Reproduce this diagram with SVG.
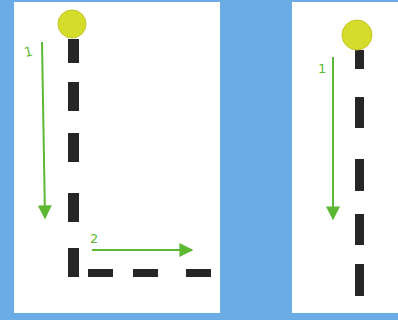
<svg xmlns="http://www.w3.org/2000/svg" width="398" height="320" viewBox="0 0 398 320">
<style>
.panel{fill:#ffffff}
.dash{fill:#262626}
.ball{fill:#d6dc2c;stroke:#c2c626;stroke-width:1}
.arrow{stroke:#5cb832;stroke-width:2;fill:none}
.lbl{font-family:"DejaVu Sans",sans-serif;font-size:13px;fill:#5cb832}
</style>
<defs>
<marker id="ah" viewBox="0 0 10 10" refX="9" refY="5" markerWidth="7" markerHeight="7" orient="auto" markerUnits="strokeWidth">
<path d="M0,0 L10,5 L0,10 Z" fill="#5cb832"/>
</marker>
</defs>
<rect x="0" y="0" width="398" height="320" fill="#6cace6"/>
<g id="panel-left">
<rect class="panel" x="14" y="2" width="206" height="311"/>
</g>
<g id="panel-right">
<rect class="panel" x="292" y="2" width="106" height="311"/>
</g>
<g id="path-left">
<rect class="dash" x="68" y="39" width="11" height="24"/>
<rect class="dash" x="68" y="82" width="11" height="29"/>
<rect class="dash" x="68" y="133" width="11" height="29"/>
<rect class="dash" x="68" y="193" width="11" height="29"/>
<rect class="dash" x="68" y="248" width="11" height="29"/>
<rect class="dash" x="88" y="269" width="25" height="8"/>
<rect class="dash" x="133" y="269" width="25" height="8"/>
<rect class="dash" x="186" y="269" width="25" height="8"/>
</g>
<g id="ball-left">
<circle class="ball" cx="72" cy="24" r="14"/>
</g>
<g id="path-right">
<rect class="dash" x="355" y="50" width="9" height="19"/>
<rect class="dash" x="355" y="97" width="9" height="31"/>
<rect class="dash" x="355" y="159" width="9" height="32"/>
<rect class="dash" x="355" y="214" width="9" height="31"/>
<rect class="dash" x="355" y="264" width="9" height="32"/>
</g>
<g id="ball-right">
<circle class="ball" cx="357" cy="35" r="15"/>
</g>
<g id="connectors">
<path class="arrow" d="M42,42 L45,218" marker-end="url(#ah)"/>
<path class="arrow" d="M92,250 L192,250" marker-end="url(#ah)"/>
<path class="arrow" d="M333,57 L333,219" marker-end="url(#ah)"/>
</g>
<g id="labels">
<text class="lbl" x="24" y="56" transform="rotate(-12 29 50)">1</text>
<text class="lbl" x="90" y="243">2</text>
<text class="lbl" x="318" y="73">1</text>
</g>
</svg>
